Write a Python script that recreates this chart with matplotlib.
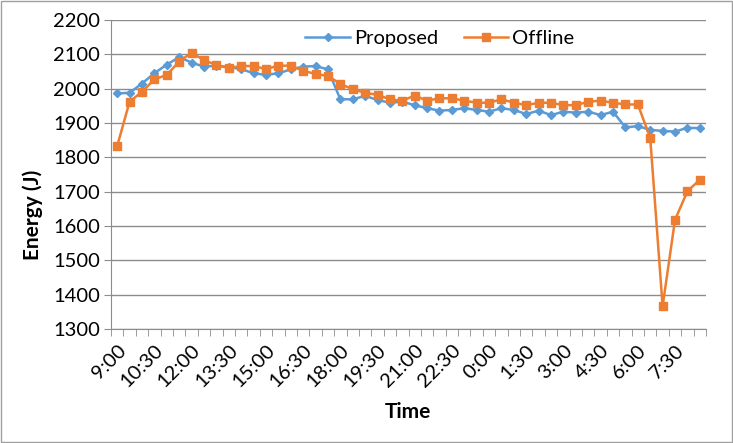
import matplotlib
matplotlib.use('Agg')
import matplotlib.pyplot as plt
import matplotlib.patches as patches
import numpy as np

# half-hour slots from 9:00 to 8:30 next morning
times = ['9:00', '9:30', '10:00', '10:30', '11:00', '11:30', '12:00', '12:30',
         '13:00', '13:30', '14:00', '14:30', '15:00', '15:30', '16:00', '16:30',
         '17:00', '17:30', '18:00', '18:30', '19:00', '19:30', '20:00', '20:30',
         '21:00', '21:30', '22:00', '22:30', '23:00', '23:30', '0:00', '0:30',
         '1:00', '1:30', '2:00', '2:30', '3:00', '3:30', '4:00', '4:30',
         '5:00', '5:30', '6:00', '6:30', '7:00', '7:30', '8:00', '8:30']

proposed = [1986, 1988, 2015, 2045, 2070, 2092, 2076, 2064, 2067, 2063,
            2057, 2045, 2040, 2045, 2056, 2064, 2066, 2056, 1969, 1969,
            1979, 1967, 1959, 1962, 1952, 1943, 1936, 1938, 1943, 1938,
            1933, 1943, 1938, 1926, 1936, 1923, 1933, 1930, 1933, 1923,
            1933, 1887, 1891, 1880, 1877, 1875, 1886, 1885]

offline = [1833, 1962, 1991, 2027, 2040, 2079, 2105, 2083, 2069, 2060,
           2066, 2066, 2057, 2067, 2067, 2052, 2043, 2037, 2014, 1998,
           1988, 1982, 1969, 1965, 1980, 1965, 1972, 1972, 1965, 1959,
           1959, 1969, 1959, 1952, 1959, 1959, 1952, 1952, 1962, 1965,
           1959, 1954, 1954, 1857, 1366, 1618, 1701, 1735]

blue = '#5B9BD5'
orange = '#ED7D31'
grid_gray = '#8C8C8C'

plt.rcParams['font.family'] = ['Lato', 'DejaVu Sans']

fig = plt.figure(figsize=(7.33, 4.43), dpi=100)
ax = fig.add_axes([111 / 733, 1 - 329 / 443, 595 / 733, 309 / 443])

x = np.arange(len(times))
ax.plot(x, proposed, color=blue, lw=1.8, marker='D', ms=4, label='Proposed', zorder=3)
ax.plot(x, offline, color=orange, lw=1.8, marker='s', ms=6, label='Offline', zorder=3)

ax.set_xlim(-0.5, len(times) - 0.5)
ax.set_ylim(1300, 2200)
ax.set_yticks(np.arange(1300, 2201, 100))
ax.yaxis.grid(True, color=grid_gray, lw=1)
ax.set_axisbelow(True)

# labels every third slot, tick marks between categories
ax.set_xticks(x[::3])
ax.set_xticklabels(times[::3], rotation=45, ha='right', rotation_mode='anchor')
ax.set_xticks(np.arange(-0.5, len(times)), minor=True)
ax.tick_params(axis='x', which='major', length=0, pad=9, labelsize=14.5)
ax.tick_params(axis='x', which='minor', length=5, color=grid_gray, direction='out')
ax.tick_params(axis='y', length=5, color=grid_gray, labelsize=14.5, pad=3)

for s in ['top', 'right']:
    ax.spines[s].set_visible(False)
for s in ['left', 'bottom']:
    ax.spines[s].set_color(grid_gray)

fig.text(33 / 733, 1 - 215 / 443, 'Energy (J)', rotation=90, ha='center', va='center',
         fontsize=15, fontweight='bold')
fig.text(408 / 733, 1 - 412 / 443, 'Time', ha='center', va='center',
         fontsize=15, fontweight='bold')

fig.legend(loc='center', bbox_to_anchor=(440 / 733, 1 - 38 / 443), ncol=2,
           frameon=False, fontsize=14.5, handlelength=2.2, columnspacing=1.3,
           handletextpad=0.2)

# outer chart border
fig.patches.append(patches.Rectangle((0.002, 0.003), 0.996, 0.994, transform=fig.transFigure,
                                     fill=False, edgecolor='#A0A0A0', lw=1))

plt.savefig('out.png', dpi=100)
